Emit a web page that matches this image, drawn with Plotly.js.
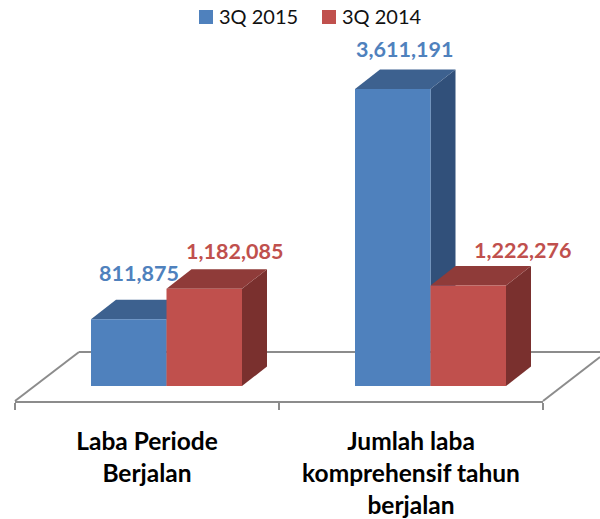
<!DOCTYPE html>
<html><head><meta charset="utf-8">
<script src="https://cdn.plot.ly/plotly-3.0.0.min.js"></script>
<style>html,body{margin:0;padding:0;background:#fff}</style>
</head><body><div id="chart" style="width:600px;height:519px"></div>
<script>
const categories = ["Laba Periode<br>Berjalan", "Jumlah laba<br>komprehensif tahun<br>berjalan"];
const series2015 = [811875, 3611191];
const series2014 = [1182085, 1222276];
const seriesNames = ["3Q 2015", "3Q 2014"];

const W = 600, H = 519, FONT = "Lato, sans-serif";
const unitPx = 264, yPerPx = 3611191 / 297;
const barW = 75.5 / unitPx, depthX = 25 / unitPx, depthY = 19.5 * yPerPx;
const baseY = 386, axisY = 401, group0 = 166.5;
const colors = {front:["#4F81BD","#C0504D"], top:["#3D618F","#8F3B39"], side:["#31507A","#7A302E"]};
const seriesVals = [series2015, series2014];

const shapes = [];
const grey = {color:"#8C8C8C", width:2};
const px = (x)=>x/W, py = (y)=>1-y/H;
// floor outline (paper coordinates)
[[[15,axisY],[79,352]],[[79,352],[600,352]],[[543,axisY],[600,357]]].forEach(s=>{
  shapes.push({type:"line",xref:"paper",yref:"paper",layer:"below",x0:px(s[0][0]),y0:py(s[0][1]),x1:px(s[1][0]),y1:py(s[1][1]),line:grey});
});
// depth faces, from the data
seriesVals.forEach((vals,s)=>{
  vals.forEach((v,i)=>{
    const L = i + (s-1)*barW, R = L + barW;
    shapes.push({type:"path",xref:"x",yref:"y",layer:"below",fillcolor:colors.side[s],line:{width:0},
      path:`M${R},0 L${R+depthX},${depthY} L${R+depthX},${v+depthY} L${R},${v} Z`});
    shapes.push({type:"path",xref:"x",yref:"y",layer:"below",fillcolor:colors.top[s],line:{width:0},
      path:`M${L},${v} L${L+depthX},${v+depthY} L${R+depthX},${v+depthY} L${R},${v} Z`});
  });
});

const barTrace = (s)=>({type:"bar",name:seriesNames[s],x:[0,1],y:seriesVals[s],
  marker:{color:colors.front[s],line:{width:0}},hoverinfo:"skip",xaxis:"x",yaxis:"y",showlegend:false});
const dummy = {type:"scatter",mode:"none",x:categories,y:[0,0],xaxis:"x2",yaxis:"y",showlegend:false,hoverinfo:"skip"};

const lab = (i,v,s,xs,ys)=>({x:i+(s-0.5)*barW,y:v,xref:"x",yref:"y",text:v.toLocaleString("en-US"),showarrow:false,
  xshift:xs,yshift:ys,font:{family:FONT,size:21.5,color:colors.front[s],weight:"bold"}});
const annotations = [
  lab(0,series2015[0],0,10,46),
  lab(0,series2014[0],1,30,38),
  lab(1,series2015[1],0,12,40),
  lab(1,series2014[1],1,54,35)
];

// legend keys: swatch and name for each series
[[199,219],[322,342]].forEach((p,s)=>{
  shapes.push({type:"rect",xref:"paper",yref:"paper",x0:px(p[0]),x1:px(p[0]+14),y0:py(24),y1:py(10),fillcolor:colors.front[s],line:{width:0}});
  annotations.push({xref:"paper",yref:"paper",x:px(p[1]),y:py(16.5),xanchor:"left",yanchor:"middle",showarrow:false,
    text:seriesNames[s],font:{family:FONT,size:20,color:"#111"},borderpad:0,borderwidth:0});
});

Plotly.newPlot("chart",[barTrace(0),barTrace(1),dummy],{
  width:W,height:H,margin:{l:0,r:0,t:0,b:0,pad:0},
  paper_bgcolor:"#fff",plot_bgcolor:"rgba(0,0,0,0)",
  barmode:"group",bargap:1-2*barW,bargroupgap:0,
  showlegend:false,
  xaxis:{visible:false,type:"linear",domain:[0,1],range:[-group0/unitPx,(W-group0)/unitPx],anchor:"y",fixedrange:true},
  yaxis:{visible:false,domain:[(H-axisY)/H,1],range:[-(axisY-baseY)*yPerPx,baseY*yPerPx],anchor:"x",fixedrange:true},
  xaxis2:{type:"category",categoryorder:"array",categoryarray:categories,range:[-0.5,1.5],domain:[15/W,543/W],anchor:"y",
    tickson:"boundaries",ticks:"outside",ticklen:7,tickwidth:2,tickcolor:"#8C8C8C",showline:true,linecolor:"#8C8C8C",linewidth:2,showgrid:false,zeroline:false,
    ticklabelstandoff:18,tickangle:0,tickfont:{family:FONT,size:24.5,color:"#000",weight:"bold"},fixedrange:true},
  shapes,annotations
},{displayModeBar:false,staticPlot:true});
</script></body></html>
